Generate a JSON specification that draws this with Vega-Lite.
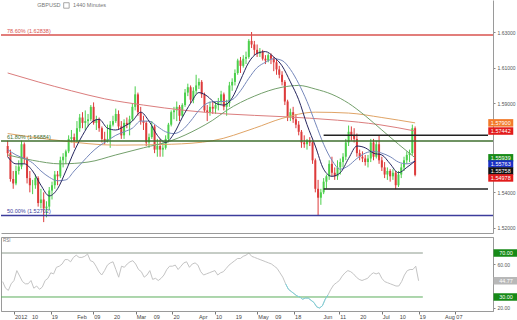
{
  "$schema": "https://vega.github.io/schema/vega-lite/v6.json",
  "padding": 0,
  "background": "white",
  "spacing": 3,
  "config": {"font": "Liberation Sans", "view": {"stroke": null}, "axis": {"labelOverlap": false, "labelSeparation": 0}},
  "datasets": {
    "px": [
      {"d":"2011-12-27","o":1.5660,"h":1.5690,"l":1.5600,"c":1.5620,"r":44,"m1":1.5600,"m2":1.5640,"m3":1.5610,"m4":1.5730,"m5":1.6070},
      {"d":"2011-12-28","o":1.5620,"h":1.5640,"l":1.5460,"c":1.5475,"r":38},
      {"d":"2011-12-29","o":1.5475,"h":1.5520,"l":1.5420,"c":1.5450,"r":36},
      {"d":"2011-12-30","o":1.5450,"h":1.5550,"l":1.5440,"c":1.5520,"r":42,"m1":1.5560,"m2":1.5610},
      {"d":"2012-01-02","o":1.5520,"h":1.5580,"l":1.5500,"c":1.5545,"r":45},
      {"d":"2012-01-03","o":1.5545,"h":1.5690,"l":1.5530,"c":1.5670,"r":54},
      {"d":"2012-01-04","o":1.5670,"h":1.5680,"l":1.5560,"c":1.5590,"r":49,"m1":1.5560,"m2":1.5590},
      {"d":"2012-01-05","o":1.5590,"h":1.5600,"l":1.5450,"c":1.5480,"r":44},
      {"d":"2012-01-06","o":1.5480,"h":1.5520,"l":1.5400,"c":1.5440,"r":42},
      {"d":"2012-01-09","o":1.5440,"h":1.5470,"l":1.5390,"c":1.5440,"r":42,"m1":1.5520,"m2":1.5565,"m3":1.5580},
      {"d":"2012-01-10","o":1.5440,"h":1.5500,"l":1.5420,"c":1.5480,"r":45},
      {"d":"2012-01-11","o":1.5480,"h":1.5490,"l":1.5320,"c":1.5340,"r":38,"m5":1.6020},
      {"d":"2012-01-12","o":1.5340,"h":1.5420,"l":1.5310,"c":1.5360,"r":40,"m1":1.5440,"m2":1.5520},
      {"d":"2012-01-13","o":1.5360,"h":1.5400,"l":1.5233,"c":1.5310,"r":37},
      {"d":"2012-01-16","o":1.5310,"h":1.5350,"l":1.5260,"c":1.5320,"r":39},
      {"d":"2012-01-17","o":1.5320,"h":1.5430,"l":1.5300,"c":1.5410,"r":45,"m1":1.5380,"m2":1.5485},
      {"d":"2012-01-18","o":1.5410,"h":1.5460,"l":1.5360,"c":1.5440,"r":47},
      {"d":"2012-01-19","o":1.5440,"h":1.5520,"l":1.5420,"c":1.5500,"r":52},
      {"d":"2012-01-20","o":1.5500,"h":1.5520,"l":1.5440,"c":1.5490,"r":51,"m1":1.5420,"m2":1.5465},
      {"d":"2012-01-23","o":1.5490,"h":1.5600,"l":1.5480,"c":1.5580,"r":57,"m3":1.5560,"m4":1.5690},
      {"d":"2012-01-24","o":1.5580,"h":1.5620,"l":1.5540,"c":1.5600,"r":58},
      {"d":"2012-01-25","o":1.5600,"h":1.5640,"l":1.5560,"c":1.5630,"r":60,"m1":1.5520,"m2":1.5470},
      {"d":"2012-01-26","o":1.5630,"h":1.5720,"l":1.5620,"c":1.5700,"r":64},
      {"d":"2012-01-27","o":1.5700,"h":1.5750,"l":1.5680,"c":1.5710,"r":64,"m5":1.5970},
      {"d":"2012-01-30","o":1.5710,"h":1.5730,"l":1.5650,"c":1.5690,"r":62,"m1":1.5630,"m2":1.5520},
      {"d":"2012-01-31","o":1.5690,"h":1.5800,"l":1.5680,"c":1.5760,"r":66},
      {"d":"2012-02-01","o":1.5760,"h":1.5840,"l":1.5740,"c":1.5820,"r":68},
      {"d":"2012-02-02","o":1.5820,"h":1.5850,"l":1.5760,"c":1.5790,"r":66,"m1":1.5720,"m2":1.5570},
      {"d":"2012-02-03","o":1.5790,"h":1.5860,"l":1.5750,"c":1.5800,"r":66},
      {"d":"2012-02-06","o":1.5800,"h":1.5840,"l":1.5770,"c":1.5810,"r":67,"m3":1.5570},
      {"d":"2012-02-07","o":1.5810,"h":1.5890,"l":1.5800,"c":1.5880,"r":69,"m1":1.5790,"m2":1.5620},
      {"d":"2012-02-08","o":1.5880,"h":1.5905,"l":1.5780,"c":1.5790,"r":63},
      {"d":"2012-02-09","o":1.5790,"h":1.5830,"l":1.5750,"c":1.5810,"r":62},
      {"d":"2012-02-10","o":1.5810,"h":1.5820,"l":1.5740,"c":1.5760,"r":58,"m1":1.5810,"m2":1.5660},
      {"d":"2012-02-13","o":1.5760,"h":1.5770,"l":1.5680,"c":1.5700,"r":53},
      {"d":"2012-02-14","o":1.5700,"h":1.5740,"l":1.5670,"c":1.5690,"r":50,"m5":1.5925},
      {"d":"2012-02-15","o":1.5690,"h":1.5780,"l":1.5680,"c":1.5700,"r":54,"m1":1.5760,"m2":1.5690},
      {"d":"2012-02-16","o":1.5700,"h":1.5800,"l":1.5650,"c":1.5780,"r":59},
      {"d":"2012-02-17","o":1.5780,"h":1.5830,"l":1.5770,"c":1.5800,"r":61},
      {"d":"2012-02-20","o":1.5800,"h":1.5870,"l":1.5790,"c":1.5840,"r":62,"m1":1.5750,"m2":1.5720,"m3":1.5610,"m4":1.5665},
      {"d":"2012-02-21","o":1.5840,"h":1.5860,"l":1.5750,"c":1.5770,"r":55},
      {"d":"2012-02-22","o":1.5770,"h":1.5800,"l":1.5700,"c":1.5720,"r":48},
      {"d":"2012-02-23","o":1.5720,"h":1.5810,"l":1.5700,"c":1.5790,"r":58,"m1":1.5770,"m2":1.5740},
      {"d":"2012-02-24","o":1.5790,"h":1.5820,"l":1.5760,"c":1.5780,"r":57},
      {"d":"2012-02-27","o":1.5780,"h":1.5830,"l":1.5720,"c":1.5810,"r":60},
      {"d":"2012-02-28","o":1.5810,"h":1.5900,"l":1.5800,"c":1.5880,"r":62,"m1":1.5800,"m2":1.5760},
      {"d":"2012-02-29","o":1.5880,"h":1.5995,"l":1.5860,"c":1.5950,"r":63},
      {"d":"2012-03-01","o":1.5950,"h":1.5960,"l":1.5830,"c":1.5850,"r":60},
      {"d":"2012-03-02","o":1.5850,"h":1.5880,"l":1.5780,"c":1.5800,"r":55,"m1":1.5850,"m2":1.5800},
      {"d":"2012-03-05","o":1.5800,"h":1.5830,"l":1.5750,"c":1.5790,"r":53,"m3":1.5650,"m5":1.5890},
      {"d":"2012-03-06","o":1.5790,"h":1.5800,"l":1.5660,"c":1.5680,"r":48},
      {"d":"2012-03-07","o":1.5680,"h":1.5730,"l":1.5650,"c":1.5710,"r":50,"m1":1.5800,"m2":1.5800},
      {"d":"2012-03-08","o":1.5710,"h":1.5800,"l":1.5700,"c":1.5770,"r":54},
      {"d":"2012-03-09","o":1.5770,"h":1.5780,"l":1.5620,"c":1.5640,"r":46},
      {"d":"2012-03-12","o":1.5640,"h":1.5700,"l":1.5600,"c":1.5660,"r":47,"m1":1.5720,"m2":1.5770},
      {"d":"2012-03-13","o":1.5660,"h":1.5700,"l":1.5600,"c":1.5640,"r":45},
      {"d":"2012-03-14","o":1.5640,"h":1.5680,"l":1.5600,"c":1.5650,"r":47},
      {"d":"2012-03-15","o":1.5650,"h":1.5720,"l":1.5640,"c":1.5700,"r":50,"m1":1.5680,"m2":1.5740},
      {"d":"2012-03-16","o":1.5700,"h":1.5790,"l":1.5680,"c":1.5780,"r":55},
      {"d":"2012-03-19","o":1.5780,"h":1.5860,"l":1.5770,"c":1.5850,"r":58,"m3":1.5690,"m4":1.5670},
      {"d":"2012-03-20","o":1.5850,"h":1.5880,"l":1.5810,"c":1.5860,"r":58,"m1":1.5730,"m2":1.5730},
      {"d":"2012-03-21","o":1.5860,"h":1.5910,"l":1.5800,"c":1.5880,"r":59},
      {"d":"2012-03-22","o":1.5880,"h":1.5890,"l":1.5800,"c":1.5830,"r":55},
      {"d":"2012-03-23","o":1.5830,"h":1.5900,"l":1.5820,"c":1.5890,"r":58,"m1":1.5820,"m2":1.5750},
      {"d":"2012-03-26","o":1.5890,"h":1.5980,"l":1.5880,"c":1.5960,"r":61,"m5":1.5860},
      {"d":"2012-03-27","o":1.5960,"h":1.6010,"l":1.5940,"c":1.5990,"r":62},
      {"d":"2012-03-28","o":1.5990,"h":1.6000,"l":1.5900,"c":1.5920,"r":57,"m1":1.5900,"m2":1.5800},
      {"d":"2012-03-29","o":1.5920,"h":1.5990,"l":1.5900,"c":1.5970,"r":60},
      {"d":"2012-03-30","o":1.5970,"h":1.6060,"l":1.5950,"c":1.6000,"r":61},
      {"d":"2012-04-02","o":1.6000,"h":1.6040,"l":1.5980,"c":1.6020,"r":59,"m1":1.5960,"m2":1.5860,"m3":1.5760},
      {"d":"2012-04-03","o":1.6020,"h":1.6030,"l":1.5930,"c":1.5950,"r":53},
      {"d":"2012-04-04","o":1.5950,"h":1.5960,"l":1.5850,"c":1.5860,"r":50},
      {"d":"2012-04-05","o":1.5860,"h":1.5890,"l":1.5800,"c":1.5850,"r":51,"m1":1.5940,"m2":1.5900},
      {"d":"2012-04-06","o":1.5850,"h":1.5910,"l":1.5830,"c":1.5880,"r":52},
      {"d":"2012-04-09","o":1.5880,"h":1.5910,"l":1.5840,"c":1.5870,"r":53,"m3":1.5805,"m4":1.5690},
      {"d":"2012-04-10","o":1.5870,"h":1.5910,"l":1.5840,"c":1.5890,"r":54,"m1":1.5900,"m2":1.5910},
      {"d":"2012-04-11","o":1.5890,"h":1.5930,"l":1.5860,"c":1.5910,"r":50},
      {"d":"2012-04-12","o":1.5910,"h":1.5970,"l":1.5890,"c":1.5950,"r":52},
      {"d":"2012-04-13","o":1.5950,"h":1.5960,"l":1.5860,"c":1.5880,"r":53,"m1":1.5890,"m2":1.5910},
      {"d":"2012-04-16","o":1.5880,"h":1.5920,"l":1.5830,"c":1.5900,"r":56,"m3":1.5860,"m5":1.5840},
      {"d":"2012-04-17","o":1.5900,"h":1.6020,"l":1.5880,"c":1.6000,"r":59},
      {"d":"2012-04-18","o":1.6000,"h":1.6040,"l":1.5970,"c":1.6020,"r":61,"m1":1.5930,"m2":1.5920},
      {"d":"2012-04-19","o":1.6020,"h":1.6090,"l":1.6000,"c":1.6070,"r":63},
      {"d":"2012-04-20","o":1.6070,"h":1.6150,"l":1.6060,"c":1.6140,"r":65},
      {"d":"2012-04-23","o":1.6140,"h":1.6160,"l":1.6070,"c":1.6110,"r":65,"m1":1.6030,"m2":1.5970},
      {"d":"2012-04-24","o":1.6110,"h":1.6170,"l":1.6100,"c":1.6150,"r":67},
      {"d":"2012-04-25","o":1.6150,"h":1.6190,"l":1.6120,"c":1.6160,"r":68},
      {"d":"2012-04-26","o":1.6160,"h":1.6260,"l":1.6150,"c":1.6250,"r":70,"m1":1.6130,"m2":1.6040},
      {"d":"2012-04-27","o":1.6250,"h":1.6300,"l":1.6210,"c":1.6230,"r":67},
      {"d":"2012-04-30","o":1.6230,"h":1.6250,"l":1.6170,"c":1.6200,"r":66,"m3":1.5940,"m4":1.5760},
      {"d":"2012-05-01","o":1.6200,"h":1.6230,"l":1.6160,"c":1.6180,"r":65,"m1":1.6180,"m2":1.6100},
      {"d":"2012-05-02","o":1.6180,"h":1.6210,"l":1.6160,"c":1.6190,"r":64},
      {"d":"2012-05-03","o":1.6190,"h":1.6200,"l":1.6140,"c":1.6150,"r":63},
      {"d":"2012-05-04","o":1.6150,"h":1.6170,"l":1.6120,"c":1.6140,"r":62,"m1":1.6190,"m2":1.6130},
      {"d":"2012-05-07","o":1.6140,"h":1.6180,"l":1.6130,"c":1.6170,"r":61},
      {"d":"2012-05-08","o":1.6170,"h":1.6180,"l":1.6120,"c":1.6150,"r":60},
      {"d":"2012-05-09","o":1.6150,"h":1.6160,"l":1.6080,"c":1.6130,"r":58,"m1":1.6160,"m2":1.6150},
      {"d":"2012-05-10","o":1.6130,"h":1.6150,"l":1.6060,"c":1.6090,"r":56},
      {"d":"2012-05-11","o":1.6090,"h":1.6110,"l":1.6040,"c":1.6060,"r":52},
      {"d":"2012-05-14","o":1.6060,"h":1.6080,"l":1.6000,"c":1.6020,"r":48,"m1":1.6110,"m2":1.6140,"m3":1.5990,"m4":1.5815,"m5":1.5825},
      {"d":"2012-05-15","o":1.6020,"h":1.6030,"l":1.5890,"c":1.5910,"r":42},
      {"d":"2012-05-16","o":1.5910,"h":1.5920,"l":1.5800,"c":1.5820,"r":37},
      {"d":"2012-05-17","o":1.5820,"h":1.5870,"l":1.5800,"c":1.5850,"r":35,"m1":1.6020,"m2":1.6090},
      {"d":"2012-05-18","o":1.5850,"h":1.5880,"l":1.5790,"c":1.5810,"r":33},
      {"d":"2012-05-21","o":1.5810,"h":1.5840,"l":1.5760,"c":1.5780,"r":31},
      {"d":"2012-05-22","o":1.5780,"h":1.5800,"l":1.5720,"c":1.5740,"r":30,"m1":1.5920,"m2":1.6010,"m3":1.6000},
      {"d":"2012-05-23","o":1.5740,"h":1.5750,"l":1.5650,"c":1.5680,"r":28},
      {"d":"2012-05-24","o":1.5680,"h":1.5720,"l":1.5650,"c":1.5670,"r":29},
      {"d":"2012-05-25","o":1.5670,"h":1.5700,"l":1.5640,"c":1.5690,"r":29,"m1":1.5780,"m2":1.5910},
      {"d":"2012-05-28","o":1.5690,"h":1.5710,"l":1.5660,"c":1.5680,"r":27},
      {"d":"2012-05-29","o":1.5680,"h":1.5690,"l":1.5560,"c":1.5580,"r":25},
      {"d":"2012-05-30","o":1.5580,"h":1.5590,"l":1.5400,"c":1.5420,"r":21,"m1":1.5660,"m2":1.5790,"m3":1.5980,"m4":1.5850},
      {"d":"2012-05-31","o":1.5420,"h":1.5470,"l":1.5270,"c":1.5370,"r":20},
      {"d":"2012-06-01","o":1.5370,"h":1.5420,"l":1.5330,"c":1.5400,"r":22},
      {"d":"2012-06-04","o":1.5400,"h":1.5480,"l":1.5390,"c":1.5460,"r":28,"m1":1.5530,"m2":1.5670},
      {"d":"2012-06-05","o":1.5460,"h":1.5500,"l":1.5420,"c":1.5490,"r":32},
      {"d":"2012-06-06","o":1.5490,"h":1.5580,"l":1.5470,"c":1.5560,"r":37},
      {"d":"2012-06-07","o":1.5560,"h":1.5600,"l":1.5490,"c":1.5510,"r":41,"m1":1.5490,"m2":1.5580,"m3":1.5950},
      {"d":"2012-06-08","o":1.5510,"h":1.5540,"l":1.5470,"c":1.5490,"r":43},
      {"d":"2012-06-11","o":1.5490,"h":1.5580,"l":1.5470,"c":1.5540,"r":45,"m5":1.5805},
      {"d":"2012-06-12","o":1.5540,"h":1.5590,"l":1.5500,"c":1.5570,"r":49,"m1":1.5510,"m2":1.5530},
      {"d":"2012-06-13","o":1.5570,"h":1.5620,"l":1.5540,"c":1.5600,"r":52},
      {"d":"2012-06-14","o":1.5600,"h":1.5700,"l":1.5580,"c":1.5680,"r":54},
      {"d":"2012-06-15","o":1.5680,"h":1.5775,"l":1.5660,"c":1.5740,"r":53,"m1":1.5590,"m2":1.5550,"m3":1.5900,"m4":1.5845},
      {"d":"2012-06-18","o":1.5740,"h":1.5770,"l":1.5690,"c":1.5720,"r":51},
      {"d":"2012-06-19","o":1.5720,"h":1.5760,"l":1.5680,"c":1.5700,"r":48},
      {"d":"2012-06-20","o":1.5700,"h":1.5730,"l":1.5600,"c":1.5620,"r":46,"m1":1.5660,"m2":1.5590},
      {"d":"2012-06-21","o":1.5620,"h":1.5640,"l":1.5580,"c":1.5600,"r":45},
      {"d":"2012-06-22","o":1.5600,"h":1.5630,"l":1.5570,"c":1.5590,"r":46},
      {"d":"2012-06-25","o":1.5590,"h":1.5610,"l":1.5550,"c":1.5570,"r":47,"m1":1.5650,"m2":1.5620,"m3":1.5830},
      {"d":"2012-06-26","o":1.5570,"h":1.5610,"l":1.5540,"c":1.5590,"r":50},
      {"d":"2012-06-27","o":1.5590,"h":1.5700,"l":1.5570,"c":1.5680,"r":52},
      {"d":"2012-06-28","o":1.5680,"h":1.5700,"l":1.5580,"c":1.5600,"r":51,"m1":1.5620,"m2":1.5630},
      {"d":"2012-06-29","o":1.5600,"h":1.5690,"l":1.5590,"c":1.5670,"r":52},
      {"d":"2012-07-02","o":1.5670,"h":1.5720,"l":1.5560,"c":1.5580,"r":47,"m5":1.5780},
      {"d":"2012-07-03","o":1.5580,"h":1.5600,"l":1.5520,"c":1.5540,"r":44,"m1":1.5610,"m2":1.5620,"m3":1.5750,"m4":1.5820},
      {"d":"2012-07-04","o":1.5540,"h":1.5570,"l":1.5480,"c":1.5500,"r":43},
      {"d":"2012-07-05","o":1.5500,"h":1.5540,"l":1.5470,"c":1.5520,"r":42},
      {"d":"2012-07-06","o":1.5520,"h":1.5530,"l":1.5460,"c":1.5490,"r":41,"m1":1.5560,"m2":1.5600},
      {"d":"2012-07-09","o":1.5490,"h":1.5530,"l":1.5470,"c":1.5510,"r":40},
      {"d":"2012-07-10","o":1.5510,"h":1.5520,"l":1.5418,"c":1.5440,"r":40},
      {"d":"2012-07-11","o":1.5440,"h":1.5520,"l":1.5430,"c":1.5500,"r":44,"m1":1.5510,"m2":1.5570,"m3":1.5670},
      {"d":"2012-07-12","o":1.5500,"h":1.5560,"l":1.5480,"c":1.5540,"r":50},
      {"d":"2012-07-13","o":1.5540,"h":1.5600,"l":1.5520,"c":1.5580,"r":54},
      {"d":"2012-07-16","o":1.5580,"h":1.5630,"l":1.5560,"c":1.5610,"r":55,"m1":1.5540,"m2":1.5560},
      {"d":"2012-07-17","o":1.5610,"h":1.5640,"l":1.5570,"c":1.5620,"r":55},
      {"d":"2012-07-18","o":1.5620,"h":1.5780,"l":1.5610,"c":1.5760,"r":58},
      {"d":"2012-07-19","o":1.5760,"h":1.5770,"l":1.5490,"c":1.5498,"r":44.77,"m1":1.55758,"m2":1.55763,"m3":1.55939,"m4":1.5790,"m5":1.57442}
    ],
    "lev": [
      {"t":"78.60% (1.62838)","p":1.62838,"k":"a"},
      {"t":"61.80% (1.56884)","p":1.56884,"k":"b"},
      {"t":"50.00% (1.52702)","p":1.52702,"k":"c"}
    ],
    "sr": [
      {"p":1.5721,"s":115},
      {"p":1.5419,"s":115}
    ],
    "tags": [
      {"t":"1.57900","v":1.579,"k":"o"},
      {"t":"1.57442","v":1.57442,"k":"r"},
      {"t":"1.55939","v":1.55939,"k":"g"},
      {"t":"1.55763","v":1.55763,"k":"b"},
      {"t":"1.55758","v":1.55758,"k":"k"},
      {"t":"1.54978","v":1.54978,"k":"r"}
    ],
    "rl": [
      {"v":70,"k":"h"},
      {"v":30,"k":"l"}
    ],
    "rtags": [
      {"t":"70.00","v":70,"k":"g"},
      {"t":"30.00","v":30,"k":"g"},
      {"t":"44.77","v":44.77,"k":"s"}
    ],
    "xt": [
      {"n":5,"t":"2012"},{"n":11,"t":"10"},{"n":18,"t":"19"},{"n":27,"t":"Feb"},{"n":33,"t":"09"},{"n":40,"t":"20"},
      {"n":48,"t":"Mar"},{"n":54,"t":"09"},{"n":61,"t":"20"},{"n":70,"t":"Apr"},{"n":76,"t":"10"},{"n":83,"t":"19"},
      {"n":91,"t":"May"},{"n":97,"t":"09"},{"n":104,"t":"18"},{"n":114,"t":"Jun"},{"n":120,"t":"11"},{"n":127,"t":"20"},
      {"n":135,"t":"Jul"},{"n":141,"t":"10"},{"n":148,"t":"19"},{"n":157,"t":"Aug"},{"n":161,"t":"07"}
    ],
    "ttl": [
      {"a":"GBPUSD","b":"1440 Minutes","c":"RSI"}
    ]
  },
  "vconcat": [
    {
      "width": 492,
      "height": 233,
      "data": {"name": "px"},
      "transform": [{"window": [{"op": "row_number", "as": "n"}]}],
      "resolve": {"scale": {"color": "independent"}},
      "layer": [
        {
          "mark": {"type": "rule", "strokeWidth": 1},
          "encoding": {
            "x": {"field": "n", "type": "quantitative", "scale": {"domain": [0.4, 174.3], "nice": false, "zero": false},
                  "axis": {"labels": false, "ticks": false, "grid": false, "title": null, "domainColor": "#9a9a9a"}},
            "y": {"field": "l", "type": "quantitative", "scale": {"domain": [1.51719, 1.64796], "nice": false, "zero": false},
                  "axis": {"orient": "right", "values": [1.52,1.53,1.54,1.57,1.59,1.60,1.61,1.62,1.63], "format": ".5f",
                           "labelFontSize": 5, "labelColor": "#555", "tickSize": 2, "tickColor": "#888", "domainColor": "#9a9a9a",
                           "labelPadding": 2, "grid": false, "title": null}},
            "y2": {"field": "h"},
            "color": {"condition": {"test": "datum.c >= datum.o", "value": "#4ccf4c"}, "value": "#dd3b3b"}
          }
        },
        {
          "mark": {"type": "bar", "size": 2},
          "encoding": {
            "x": {"field": "n", "type": "quantitative"},
            "y": {"field": "o", "type": "quantitative"},
            "y2": {"field": "c"},
            "color": {"condition": {"test": "datum.c >= datum.o", "value": "#4ccf4c"}, "value": "#dd3b3b"}
          }
        },
        {
          "transform": [{"fold": ["m5", "m4", "m3", "m2", "m1"], "as": ["s", "v"]}, {"filter": "isValid(datum.v)"}],
          "mark": {"type": "line", "strokeWidth": 1, "interpolate": "monotone"},
          "encoding": {
            "x": {"field": "n", "type": "quantitative"},
            "y": {"field": "v", "type": "quantitative"},
            "color": {"field": "s", "type": "nominal", "legend": null,
                      "scale": {"domain": ["m1", "m2", "m3", "m4", "m5"], "range": ["#26265e", "#7688bb", "#74a06c", "#e0a466", "#db7d7d"]}}
          }
        },
        {
          "data": {"name": "lev"},
          "mark": {"type": "rule", "strokeWidth": 1.5},
          "encoding": {
            "y": {"field": "p", "type": "quantitative"},
            "color": {"field": "k", "type": "nominal", "legend": null,
                      "scale": {"domain": ["a", "b", "c"], "range": ["#d9534f", "#3f6f2f", "#3c3c9c"]}}
          }
        },
        {
          "data": {"name": "lev"},
          "mark": {"type": "text", "align": "left", "baseline": "bottom", "dx": 1, "dy": -1, "fontSize": 5.5},
          "encoding": {
            "x": {"datum": 0.4},
            "y": {"field": "p", "type": "quantitative"},
            "text": {"field": "t"},
            "color": {"field": "k", "type": "nominal", "legend": null,
                      "scale": {"domain": ["a", "b", "c"], "range": ["#d9534f", "#3f6f2f", "#3c3c9c"]}}
          }
        },
        {
          "data": {"name": "sr"},
          "mark": {"type": "rule", "strokeWidth": 1.5, "color": "#222222"},
          "encoding": {
            "x": {"field": "s", "type": "quantitative"},
            "x2": {"datum": 174.3},
            "y": {"field": "p", "type": "quantitative"}
          }
        },
        {
          "data": {"name": "ttl"},
          "mark": {"type": "text", "align": "left", "baseline": "middle", "fontSize": 5.5, "color": "#777"},
          "encoding": {"x": {"datum": 11.7}, "y": {"datum": 1.6449}, "text": {"field": "a"}}
        },
        {
          "data": {"name": "ttl"},
          "mark": {"type": "point", "shape": "square", "size": 30, "filled": false, "color": "#666", "strokeWidth": 0.8},
          "encoding": {"x": {"datum": 22.2}, "y": {"datum": 1.6449}}
        },
        {
          "data": {"name": "ttl"},
          "mark": {"type": "text", "align": "left", "baseline": "middle", "fontSize": 5.5, "color": "#777"},
          "encoding": {"x": {"datum": 24.6}, "y": {"datum": 1.6449}, "text": {"field": "b"}}
        },
        {
          "data": {"name": "tags"},
          "transform": [{"filter": "datum.v > 1.559"}],
          "encoding": {"x": {"datum": 178.9}, "y": {"field": "v", "type": "quantitative"}},
          "layer": [
            {"mark": {"type": "point", "shape": "M-1,-0.3H1V0.3H-1Z", "size": 625, "filled": true, "opacity": 1, "strokeWidth": 0},
             "encoding": {"color": {"field": "k", "type": "nominal", "legend": null,
                          "scale": {"domain": ["o", "r", "g", "b", "k"], "range": ["#f27a2a", "#e21b1b", "#178a17", "#1a2fc4", "#111111"]}}}},
            {"mark": {"type": "text", "color": "white", "fontSize": 5.5, "baseline": "middle"}, "encoding": {"text": {"field": "t"}}}
          ]
        },
        {
          "data": {"name": "tags"},
          "transform": [{"filter": "datum.k == 'b'"}],
          "encoding": {"x": {"datum": 178.9}, "y": {"field": "v", "type": "quantitative"}},
          "layer": [
            {"mark": {"type": "point", "shape": "M-1,-0.3H1V0.3H-1Z", "size": 625, "filled": true, "opacity": 1, "strokeWidth": 0, "color": "#1a2fc4", "yOffset": 3}},
            {"mark": {"type": "text", "color": "white", "fontSize": 5.5, "baseline": "middle", "yOffset": 3}, "encoding": {"text": {"field": "t"}}}
          ]
        },
        {
          "data": {"name": "tags"},
          "transform": [{"filter": "datum.k == 'k'"}],
          "encoding": {"x": {"datum": 178.9}, "y": {"field": "v", "type": "quantitative"}},
          "layer": [
            {"mark": {"type": "point", "shape": "M-1,-0.3H1V0.3H-1Z", "size": 625, "filled": true, "opacity": 1, "strokeWidth": 0, "color": "#111111", "yOffset": 10}},
            {"mark": {"type": "text", "color": "white", "fontSize": 5.5, "baseline": "middle", "yOffset": 10}, "encoding": {"text": {"field": "t"}}}
          ]
        },
        {
          "data": {"name": "tags"},
          "transform": [{"filter": "datum.v < 1.55"}],
          "encoding": {"x": {"datum": 178.9}, "y": {"field": "v", "type": "quantitative"}},
          "layer": [
            {"mark": {"type": "point", "shape": "M-1,-0.3H1V0.3H-1Z", "size": 625, "filled": true, "opacity": 1, "strokeWidth": 0, "color": "#e21b1b", "yOffset": 3}},
            {"mark": {"type": "text", "color": "white", "fontSize": 5.5, "baseline": "middle", "yOffset": 3}, "encoding": {"text": {"field": "t"}}}
          ]
        }
      ]
    },
    {
      "width": 492,
      "height": 74,
      "view": {"stroke": "#9a9a9a"},
      "data": {"name": "px"},
      "transform": [{"window": [{"op": "row_number", "as": "n"}]}],
      "resolve": {"scale": {"color": "independent"}},
      "layer": [
        {
          "mark": {"type": "line", "color": "#c4c4c4", "strokeWidth": 1},
          "encoding": {
            "x": {"field": "n", "type": "quantitative", "scale": {"domain": [0.4, 174.3], "nice": false, "zero": false},
                  "axis": {"values": [5,11,18,27,33,40,48,54,61,70,76,83,91,97,104,114,120,127,135,141,148,157,161],
                           "labels": false, "tickSize": 3, "tickColor": "#777", "domainColor": "#9a9a9a", "grid": false, "title": null}},
            "y": {"field": "r", "type": "quantitative", "scale": {"domain": [17.27, 84.55], "nice": false, "zero": false},
                  "axis": {"orient": "right", "values": [20, 60], "format": ".2f", "labelFontSize": 5, "labelColor": "#555",
                           "tickSize": 2, "tickColor": "#888", "domainColor": "#9a9a9a", "labelPadding": 2, "grid": false, "title": null}}
          }
        },
        {
          "data": {"name": "rl"},
          "mark": {"type": "rule", "strokeWidth": 1},
          "encoding": {
            "x": {"datum": 0.4},
            "x2": {"datum": 149.5},
            "y": {"field": "v", "type": "quantitative"},
            "color": {"field": "k", "type": "nominal", "legend": null, "scale": {"domain": ["h", "l"], "range": ["#8c9a8c", "#5cae5c"]}}
          }
        },
        {
          "transform": [{"filter": "datum.n >= 101 && datum.n <= 116"}],
          "mark": {"type": "line", "color": "#7fd3dc", "strokeWidth": 1},
          "encoding": {"x": {"field": "n", "type": "quantitative"}, "y": {"field": "r", "type": "quantitative"}}
        },
        {
          "data": {"name": "xt"},
          "mark": {"type": "text", "align": "left", "baseline": "top", "fontSize": 5.5, "color": "#444", "dx": 1, "dy": 4},
          "encoding": {"x": {"field": "n", "type": "quantitative"}, "y": {"datum": 17.27}, "text": {"field": "t"}}
        },
        {
          "data": {"name": "ttl"},
          "mark": {"type": "text", "align": "left", "baseline": "top", "fontSize": 4.5, "color": "#777", "dx": 2, "dy": 1},
          "encoding": {"x": {"datum": 0.4}, "y": {"datum": 84.55}, "text": {"field": "c"}}
        },
        {
          "data": {"name": "rtags"},
          "encoding": {"x": {"datum": 178.9}, "y": {"field": "v", "type": "quantitative"}},
          "layer": [
            {"mark": {"type": "point", "shape": "M-1,-0.3H1V0.3H-1Z", "size": 625, "filled": true, "opacity": 1, "strokeWidth": 0},
             "encoding": {"color": {"field": "k", "type": "nominal", "legend": null, "scale": {"domain": ["g", "s"], "range": ["#178a17", "#b8b8b8"]}}}},
            {"mark": {"type": "text", "color": "white", "fontSize": 5.5, "baseline": "middle"}, "encoding": {"text": {"field": "t"}}}
          ]
        }
      ]
    }
  ]
}
